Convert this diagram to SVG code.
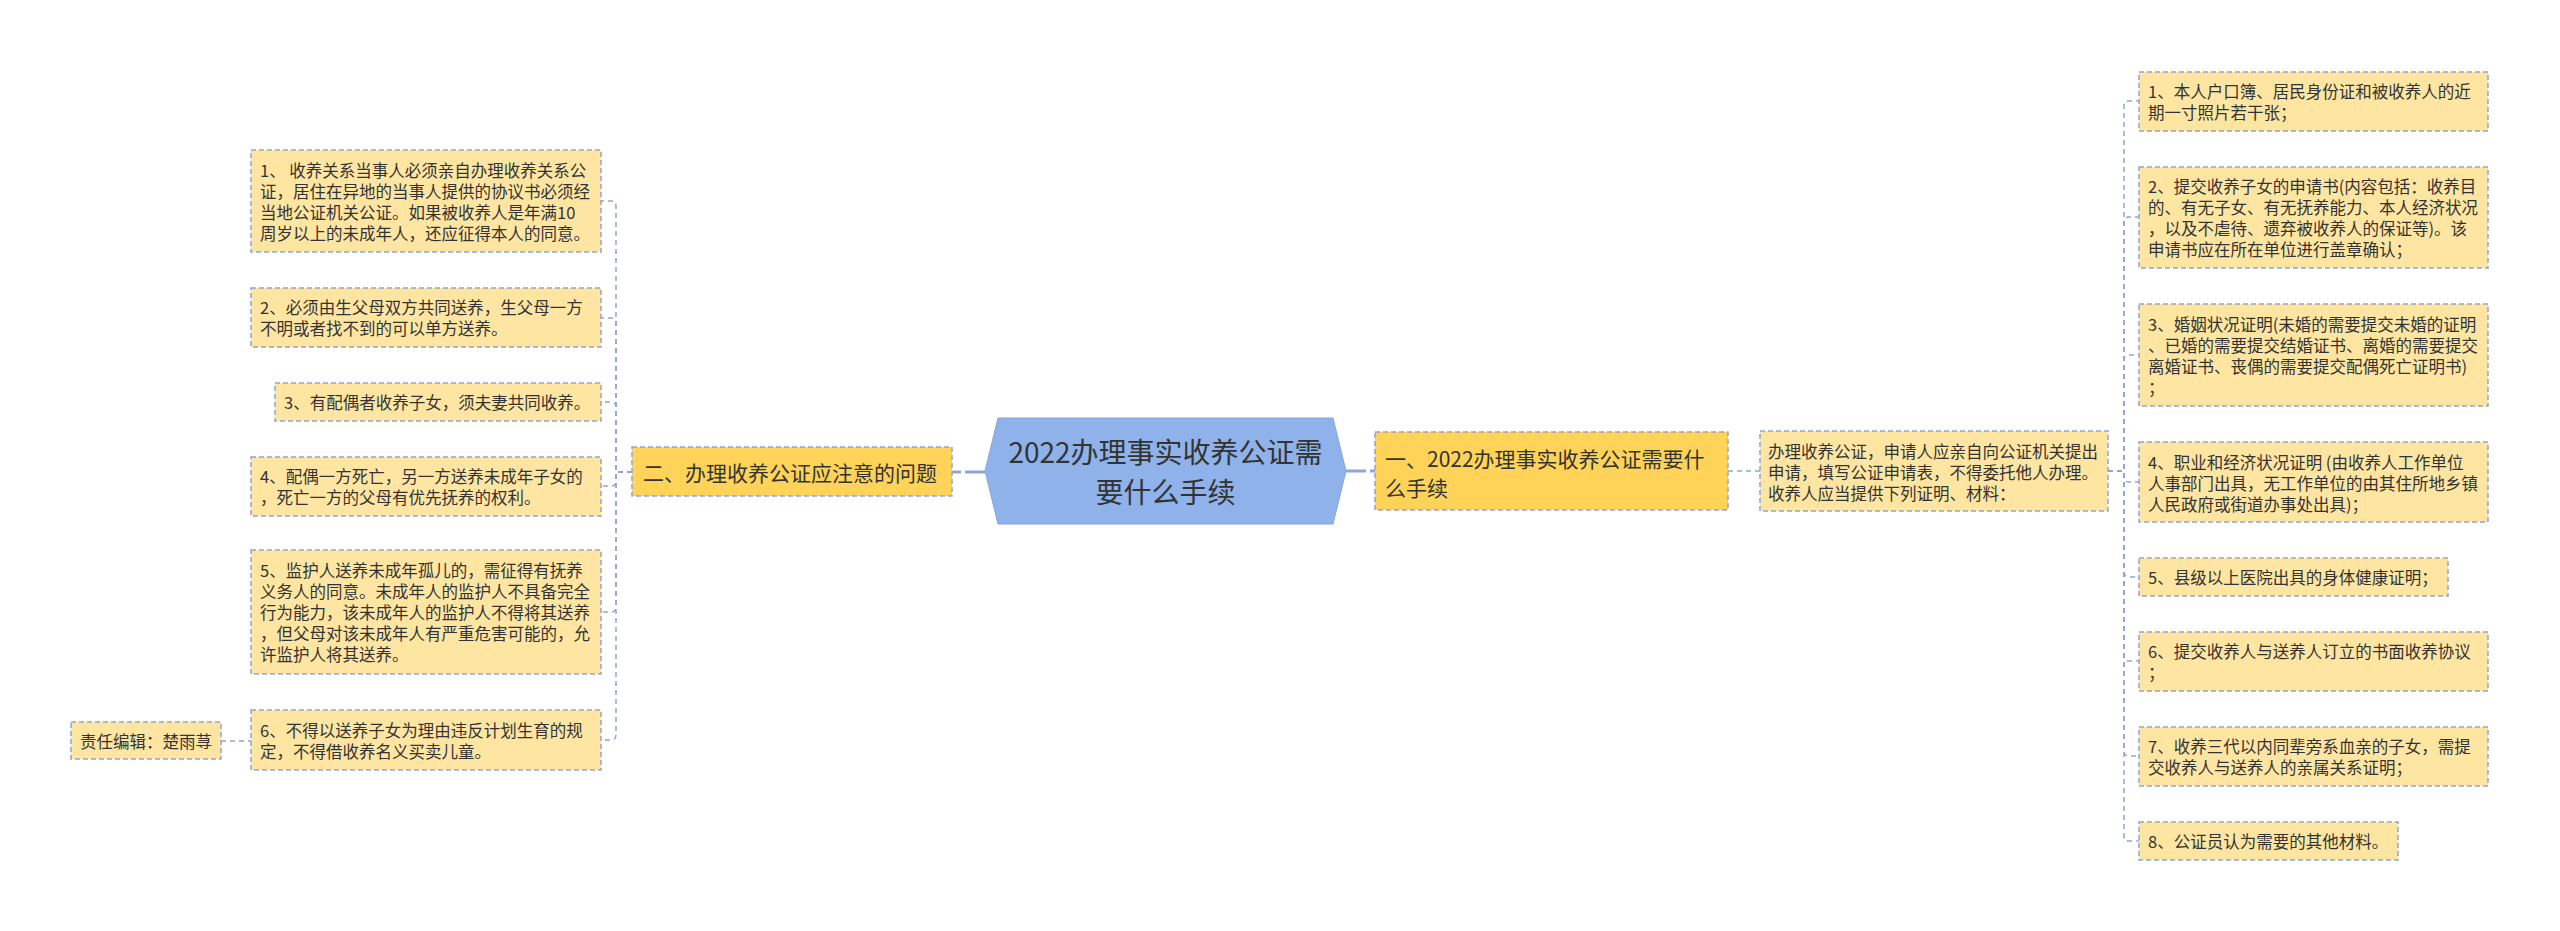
<svg xmlns="http://www.w3.org/2000/svg" width="2560" height="931" viewBox="0 0 2560 931">
<style>
text{font-family:"Noto Sans CJK SC","Noto Sans",sans-serif;fill:#333;dominant-baseline:central}
.leaf rect{fill:#fee6a2;stroke:#8ea7d4;stroke-width:1.5;stroke-dasharray:5 3}
.leaf text{font-size:16.5px}
.branch rect{fill:#fed358;stroke:#8ea7d4;stroke-width:1.5;stroke-dasharray:5 3}
.branch text{font-size:21px}
.conn path{fill:none;stroke:#8ea7d4;stroke-width:1.5;stroke-dasharray:5 4}
.conn path.main{stroke-width:3;stroke-dasharray:20 4}
</style>
<rect width="2560" height="931" fill="#ffffff"/>
<g id="connectors" class="conn">
<path class="main" d="M1346,471 H1375"/>
<path class="main" d="M985,472 H952"/>
<path d="M1728,471 H1760"/>
<path d="M221,741 H251"/>
<path d="M632,472 H616 V206 Q616,201 611,201 H601"/>
<path d="M632,472 H616 V323 Q616,318 611,318 H601"/>
<path d="M632,472 H616 V407 Q616,402 611,402 H601"/>
<path d="M632,472 H616 V481 Q616,486 611,486 H601"/>
<path d="M632,472 H616 V607 Q616,612 611,612 H601"/>
<path d="M632,472 H616 V735 Q616,740 611,740 H601"/>
<path d="M2108,471 H2124 V106 Q2124,101 2129,101 H2139"/>
<path d="M2108,471 H2124 V222 Q2124,217 2129,217 H2139"/>
<path d="M2108,471 H2124 V360 Q2124,355 2129,355 H2139"/>
<path d="M2108,471 H2124 V477 Q2124,482 2129,482 H2139"/>
<path d="M2108,471 H2124 V572 Q2124,577 2129,577 H2139"/>
<path d="M2108,471 H2124 V656 Q2124,661 2129,661 H2139"/>
<path d="M2108,471 H2124 V751 Q2124,756 2129,756 H2139"/>
<path d="M2108,471 H2124 V836 Q2124,841 2129,841 H2139"/>
</g>
<g id="center">
<polygon points="998,418 1333,418 1346,471 1333,524 998,524 985,471" fill="#8fb2ea" stroke="#84a6de" stroke-width="1"/>
<text x="1165.5" y="451" font-size="28" text-anchor="middle">2022办理事实收养公证需</text>
<text x="1165.5" y="491" font-size="28" text-anchor="middle">要什么手续</text>
</g>
<g id="branch-1" class="branch">
<rect x="1375" y="432" width="353" height="78"/>
<text x="1385" y="458">一、2022办理事实收养公证需要什</text>
<text x="1385" y="487">么手续</text>
</g>
<g id="branch-2" class="branch">
<rect x="632" y="447" width="320" height="49"/>
<text x="643" y="472">二、办理收养公证应注意的问题</text>
</g>
<g id="intro" class="leaf">
<rect x="1760" y="431" width="348" height="80"/>
<text x="1768" y="451">办理收养公证，申请人应亲自向公证机关提出</text>
<text x="1768" y="472">申请，填写公证申请表，不得委托他人办理。</text>
<text x="1768" y="493">收养人应当提供下列证明、材料：</text>
</g>
<g id="r1" class="leaf">
<rect x="2139" y="72" width="349" height="59"/>
<text x="2148" y="91">1、本人户口簿、居民身份证和被收养人的近</text>
<text x="2148" y="112">期一寸照片若干张；</text>
</g>
<g id="r2" class="leaf">
<rect x="2139" y="167" width="349" height="101"/>
<text x="2148" y="186">2、提交收养子女的申请书(内容包括：收养目</text>
<text x="2148" y="207">的、有无子女、有无抚养能力、本人经济状况</text>
<text x="2148" y="228">，以及不虐待、遗弃被收养人的保证等)。该</text>
<text x="2148" y="249">申请书应在所在单位进行盖章确认；</text>
</g>
<g id="r3" class="leaf">
<rect x="2139" y="304" width="349" height="102"/>
<text x="2148" y="324">3、婚姻状况证明(未婚的需要提交未婚的证明</text>
<text x="2148" y="345">、已婚的需要提交结婚证书、离婚的需要提交</text>
<text x="2148" y="366">离婚证书、丧偶的需要提交配偶死亡证明书)</text>
<text x="2148" y="387">；</text>
</g>
<g id="r4" class="leaf">
<rect x="2139" y="442" width="349" height="80"/>
<text x="2148" y="462">4、职业和经济状况证明 (由收养人工作单位</text>
<text x="2148" y="483">人事部门出具，无工作单位的由其住所地乡镇</text>
<text x="2148" y="504">人民政府或街道办事处出具)；</text>
</g>
<g id="r5" class="leaf">
<rect x="2139" y="558" width="309" height="38"/>
<text x="2148" y="577">5、县级以上医院出具的身体健康证明；</text>
</g>
<g id="r6" class="leaf">
<rect x="2139" y="632" width="349" height="59"/>
<text x="2148" y="651">6、提交收养人与送养人订立的书面收养协议</text>
<text x="2148" y="672">；</text>
</g>
<g id="r7" class="leaf">
<rect x="2139" y="727" width="349" height="59"/>
<text x="2148" y="746">7、收养三代以内同辈旁系血亲的子女，需提</text>
<text x="2148" y="767">交收养人与送养人的亲属关系证明；</text>
</g>
<g id="r8" class="leaf">
<rect x="2139" y="822" width="259" height="38"/>
<text x="2148" y="841">8、公证员认为需要的其他材料。</text>
</g>
<g id="l1" class="leaf">
<rect x="251" y="150" width="350" height="102"/>
<text x="260" y="170">1、 收养关系当事人必须亲自办理收养关系公</text>
<text x="260" y="191">证，居住在异地的当事人提供的协议书必须经</text>
<text x="260" y="212">当地公证机关公证。如果被收养人是年满10</text>
<text x="260" y="233">周岁以上的未成年人，还应征得本人的同意。</text>
</g>
<g id="l2" class="leaf">
<rect x="251" y="288" width="350" height="59"/>
<text x="260" y="307">2、必须由生父母双方共同送养，生父母一方</text>
<text x="260" y="328">不明或者找不到的可以单方送养。</text>
</g>
<g id="l3" class="leaf">
<rect x="275" y="383" width="326" height="38"/>
<text x="284" y="402">3、有配偶者收养子女，须夫妻共同收养。</text>
</g>
<g id="l4" class="leaf">
<rect x="251" y="457" width="350" height="59"/>
<text x="260" y="476">4、配偶一方死亡，另一方送养未成年子女的</text>
<text x="260" y="497">，死亡一方的父母有优先抚养的权利。</text>
</g>
<g id="l5" class="leaf">
<rect x="251" y="550" width="350" height="124"/>
<text x="260" y="570">5、监护人送养未成年孤儿的，需征得有抚养</text>
<text x="260" y="591">义务人的同意。未成年人的监护人不具备完全</text>
<text x="260" y="612">行为能力，该未成年人的监护人不得将其送养</text>
<text x="260" y="633">，但父母对该未成年人有严重危害可能的，允</text>
<text x="260" y="654">许监护人将其送养。</text>
</g>
<g id="l6" class="leaf">
<rect x="251" y="710" width="350" height="60"/>
<text x="260" y="730">6、不得以送养子女为理由违反计划生育的规</text>
<text x="260" y="751">定，不得借收养名义买卖儿童。</text>
</g>
<g id="editor" class="leaf">
<rect x="71" y="722" width="150" height="37"/>
<text x="80" y="740.5">责任编辑：楚雨荨</text>
</g>
</svg>
